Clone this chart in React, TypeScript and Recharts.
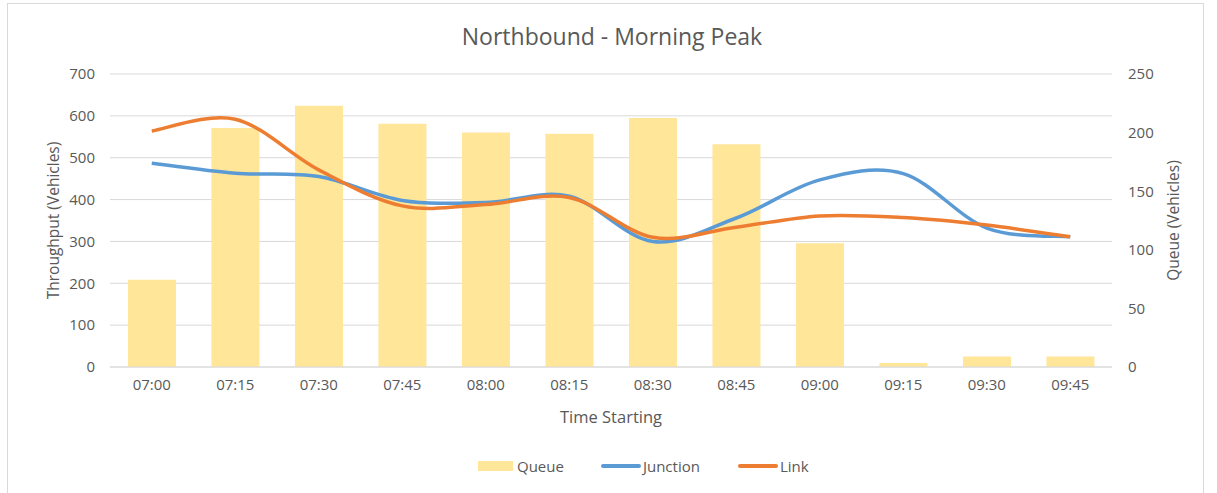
import React from "react";
import {
  ComposedChart,
  Bar,
  Line,
  XAxis,
  YAxis,
  CartesianGrid,
  Legend,
  Label,
} from "recharts";

const times = ["07:00", "07:15", "07:30", "07:45", "08:00", "08:15", "08:30", "08:45", "09:00", "09:15", "09:30", "09:45"];
const queue = [74.5, 204, 223, 207.5, 200, 199, 212.5, 190, 105.5, 3.5, 9, 9];
const junction = [487, 463, 455, 398, 393, 408, 300, 356, 447, 462, 332, 311];
const link = [564, 592, 471, 385, 388, 405, 310, 334, 361, 357, 339, 311];
const leftTicks = [0, 100, 200, 300, 400, 500, 600, 700];
const rightTicks = [0, 50, 100, 150, 200, 250];

const data = times.map((t, i) => ({ time: t, queue: queue[i], junction: junction[i], link: link[i] }));

const FONT = "'Open Sans', sans-serif";
const TXT = "#595959";

// Excel-like smoothed line (Catmull-Rom style Bezier, 1/6 control offsets)
function excelCurve(context: any) {
  let pts: number[][] = [];
  return {
    areaStart() {},
    areaEnd() {},
    lineStart() {
      pts = [];
    },
    lineEnd() {
      const n = pts.length;
      if (n === 0) return;
      context.moveTo(pts[0][0], pts[0][1]);
      if (n === 1) return;
      for (let i = 0; i < n - 1; i++) {
        const p0 = pts[Math.max(i - 1, 0)];
        const p1 = pts[i];
        const p2 = pts[i + 1];
        const p3 = pts[Math.min(i + 2, n - 1)];
        const c1x = p1[0] + (p2[0] - p0[0]) / 6;
        const c1y = p1[1] + (p2[1] - p0[1]) / 6;
        const c2x = p2[0] - (p3[0] - p1[0]) / 6;
        const c2y = p2[1] - (p3[1] - p1[1]) / 6;
        context.bezierCurveTo(c1x, c1y, c2x, c2y, p2[0], p2[1]);
      }
    },
    point(x: number, y: number) {
      pts.push([+x, +y]);
    },
  };
}

const LegendContent = () => (
  <div
    style={{
      position: "relative",
      height: 20,
      fontFamily: FONT,
      fontSize: 15,
      color: TXT,
    }}
  >
    <div style={{ position: "absolute", left: 478, top: 0, display: "flex", alignItems: "center", height: 20 }}>
      <span style={{ display: "inline-block", width: 35, height: 10, background: "#ffe699", marginRight: 4 }} />
      <span style={{ marginRight: 37 }}>Queue</span>
      <span style={{ display: "inline-block", width: 40, height: 4, borderRadius: 2, background: "#5b9bd5", marginRight: 2 }} />
      <span style={{ marginRight: 38 }}>Junction</span>
      <span style={{ display: "inline-block", width: 40, height: 4, borderRadius: 2, background: "#ed7d31", marginRight: 2 }} />
      <span>Link</span>
    </div>
  </div>
);

export default function App() {
  return (
    <div style={{ position: "absolute", left: 0, top: 0, width: 1217, height: 493, background: "#fff", overflow: "hidden" }}>
      <div
        style={{
          position: "absolute",
          left: 7,
          top: 3,
          width: 1197,
          height: 510,
          border: "1px solid #d9d9d9",
          boxSizing: "border-box",
        }}
      />
      <div
        style={{
          position: "absolute",
          left: 312,
          width: 600,
          top: 20,
          textAlign: "center",
          fontFamily: FONT,
          fontSize: 23,
          color: TXT,
          lineHeight: "32px",
        }}
      >
        Northbound - Morning Peak
      </div>
      <div style={{ position: "absolute", left: 0, top: 0 }}>
        <ComposedChart
          width={1217}
          height={493}
          data={data}
          margin={{ top: 74, right: 35, left: 40, bottom: 46 }}
          barCategoryGap="21.5%"
        >
          <CartesianGrid vertical={false} stroke="#d9d9d9" yAxisId="left" />
          <XAxis
            dataKey="time"
            height={60}
            axisLine={{ stroke: "#d9d9d9" }}
            tickLine={false}
            tickMargin={6}
            tick={{ fill: TXT, fontSize: 15, fontFamily: FONT }}
          >
            <Label value="Time Starting" position="insideBottom" offset={4} style={{ fill: TXT, fontSize: 16.5, fontFamily: FONT }} />
          </XAxis>
          <YAxis
            yAxisId="left"
            width={70}
            domain={[0, 700]}
            ticks={leftTicks}
            axisLine={false}
            tickLine={false}
            tickMargin={9}
            tick={{ fill: TXT, fontSize: 15, fontFamily: FONT }}
          >
            <Label
              value="Throughput (Vehicles)"
              angle={-90}
              position="insideLeft"
              offset={13}
              style={{ textAnchor: "middle", fill: TXT, fontSize: 15.5, fontFamily: FONT }}
            />
          </YAxis>
          <YAxis
            yAxisId="right"
            orientation="right"
            width={70}
            domain={[0, 250]}
            ticks={rightTicks}
            axisLine={false}
            tickLine={false}
            tickMargin={10}
            tick={{ fill: TXT, fontSize: 15, fontFamily: FONT, textAnchor: "start" }}
          >
            <Label
              value="Queue (Vehicles)"
              angle={-90}
              position="insideRight"
              offset={9}
              style={{ textAnchor: "middle", fill: TXT, fontSize: 15.5, fontFamily: FONT }}
            />
          </YAxis>
          <Legend verticalAlign="bottom" content={<LegendContent />} wrapperStyle={{ top: 456, bottom: "auto", left: 0, width: 1217 }} />
          <Bar yAxisId="right" dataKey="queue" name="Queue" fill="#ffe699" isAnimationActive={false} />
          <Line
            yAxisId="left"
            dataKey="junction"
            name="Junction"
            type={excelCurve as any}
            stroke="#5b9bd5"
            strokeWidth={3.5}
            dot={false}
            activeDot={false}
            isAnimationActive={false}
          />
          <Line
            yAxisId="left"
            dataKey="link"
            name="Link"
            type={excelCurve as any}
            stroke="#ed7d31"
            strokeWidth={3.5}
            dot={false}
            activeDot={false}
            isAnimationActive={false}
          />
        </ComposedChart>
      </div>
    </div>
  );
}
